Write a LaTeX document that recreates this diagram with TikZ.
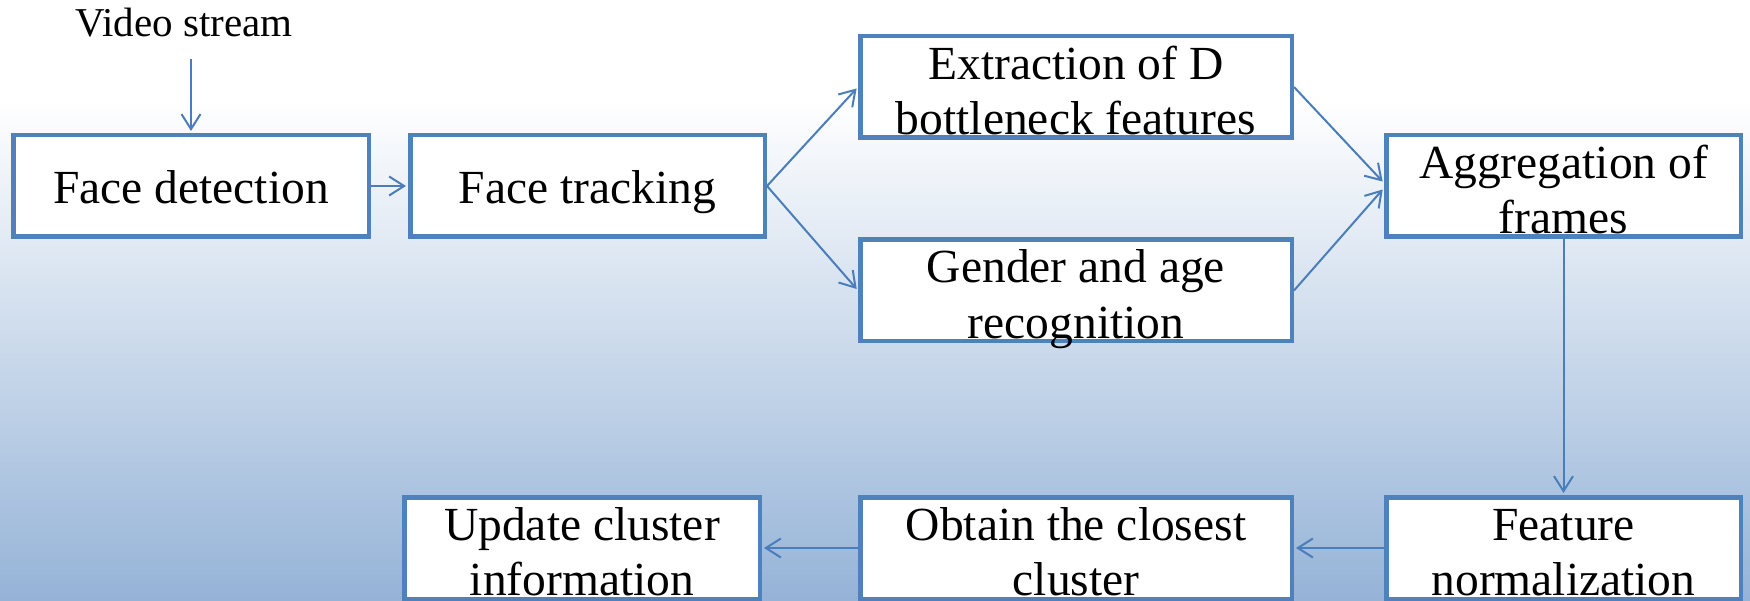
\documentclass[tikz,border=0pt]{standalone}
\usepackage{fontspec}
\setmainfont{Liberation Serif}
\usetikzlibrary{arrows.meta}
\definecolor{boxblue}{HTML}{4F81BD}
\definecolor{linkblue}{HTML}{4A7EBB}
\definecolor{bgblue}{HTML}{95B3D7}
\newcommand\twolines[2]{\begin{tabular}[b]{@{}c@{}}#1\\#2\end{tabular}}
\begin{document}
\begin{tikzpicture}[x=1pt,y=-1pt,
  box/.style={draw=boxblue, line width=4.5pt, fill=white, inner sep=0pt,
    text depth=0pt, minimum height=101.5pt, font=\fontsize{47.5}{55}\selectfont},
  onebox/.style={box, text height=36pt},
  twobox/.style={box, text height=95pt},
  link/.style={draw=linkblue, line width=2pt, shorten >=2pt,
    -{Straight Barb[length=15pt,width=19pt]}}
]
\useasboundingbox (0,0) rectangle (1750,601);
\fill[white] (0,0) rectangle (1750,100);
\shade[top color=white, bottom color=bgblue] (0,100) rectangle (1750,601);

\node[inner sep=0pt, anchor=base, font=\fontsize{41}{48}\selectfont] (vs) at (184,37) {Video stream};

\node[onebox, minimum width=355.5pt] (fd) at (191,186) {Face detection};
\node[onebox, minimum width=354.5pt] (ft) at (587.5,186) {Face tracking};
\node[twobox, minimum width=431.5pt] (ex) at (1076,87) {\twolines{Extraction of D}{bottleneck features}};
\node[twobox, minimum width=431.5pt] (ga) at (1076,290.5) {\twolines{Gender and age}{recognition}};
\node[twobox, minimum width=354.5pt] (ag) at (1563.5,186) {\twolines{Aggregation of}{frames}};
\node[twobox, minimum width=354.5pt] (fn) at (1563.5,548) {\twolines{Feature}{normalization}};
\node[twobox, minimum width=431.5pt] (oc) at (1076,548) {\twolines{Obtain the closest}{cluster}};
\node[twobox, minimum width=355.5pt] (uc) at (582,548) {\twolines{Update cluster}{information}};

\draw[link, shorten <=21pt] (vs.south -| fd.north) -- (fd.north);
\draw[link] (fd.east) -- (ft.west);
\draw[link] (ft.east) -- (ex.west);
\draw[link] (ft.east) -- (ga.west);
\draw[link] (ex.east) -- ([yshift=3pt]ag.west);
\draw[link] (ga.east) -- ([yshift=-2pt]ag.west);
\draw[link] (ag.south) -- (fn.north);
\draw[link] (fn.west) -- (oc.east);
\draw[link] (oc.west) -- (uc.east);
\end{tikzpicture}
\end{document}
